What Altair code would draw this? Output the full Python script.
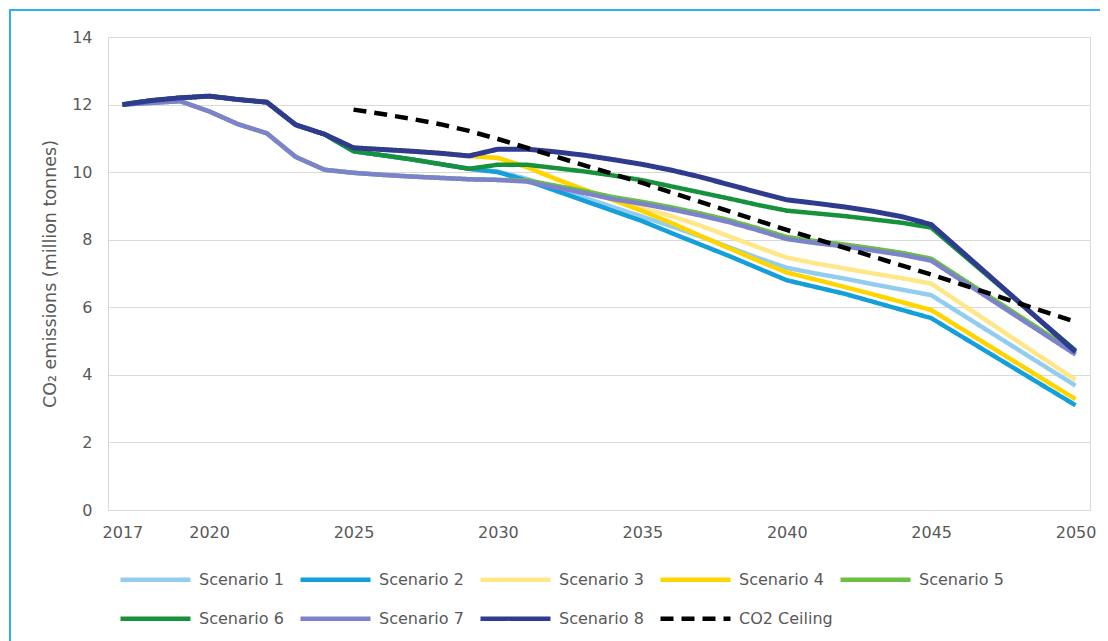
import altair as alt
import pandas as pd

years = list(range(2017, 2051))
names = ["Scenario 1", "Scenario 2", "Scenario 3", "Scenario 4", "Scenario 5",
         "Scenario 6", "Scenario 7", "Scenario 8", "CO2 Ceiling"]
colors = ["#92CDF0", "#139FDA", "#FFE788", "#FFD500", "#6CBF45",
          "#17913B", "#7C82CB", "#2F3B8E", "#000000"]
N = None

s1 = [12.0, 12.12, 12.2, 12.25, 12.15, 12.07, 11.4, 11.12, 10.62, 10.5, 10.38, 10.24, 10.1,
      10.02, 9.8, 9.52, 9.24, 8.96, 8.68, 8.4, 8.1, 7.78, 7.46, 7.17, 7.0, 6.85, 6.68, 6.52, 6.36,
      N, N, N, N, 3.68]
s2 = [12.0, 12.12, 12.2, 12.25, 12.15, 12.07, 11.4, 11.12, 10.62, 10.5, 10.38, 10.24, 10.1,
      10.0, 9.75, 9.45, 9.15, 8.85, 8.55, 8.2, 7.86, 7.52, 7.16, 6.8, 6.6, 6.4, 6.16, 5.92, 5.68,
      N, N, N, N, 3.1]
s3 = [12.0, 12.12, 12.2, 12.25, 12.15, 12.07, 11.4, 11.12, 10.72, 10.67, 10.62, 10.56, 10.48,
      10.42, 10.15, 9.8, 9.48, 9.17, 8.93, 8.7, 8.42, 8.1, 7.78, 7.47, 7.3, 7.15, 7.0, 6.86, 6.7,
      N, N, N, N, 3.85]
s4 = [12.0, 12.12, 12.2, 12.25, 12.15, 12.07, 11.4, 11.12, 10.72, 10.67, 10.62, 10.56, 10.48,
      10.42, 10.15, 9.8, 9.48, 9.17, 8.85, 8.5, 8.12, 7.75, 7.38, 7.03, 6.82, 6.6, 6.38, 6.15, 5.92,
      N, N, N, N, 3.28]
s5 = [12.0, 12.05, 12.1, 11.8, 11.42, 11.15, 10.45, 10.07, 9.98, 9.92, 9.87, 9.83, 9.79,
      9.77, 9.76, 9.6, 9.44, 9.26, 9.12, 8.96, 8.78, 8.58, 8.34, 8.08, 7.96, 7.86, 7.74, 7.61, 7.44,
      N, N, N, N, 4.66]
s6 = [12.0, 12.12, 12.2, 12.25, 12.15, 12.07, 11.4, 11.12, 10.62, 10.5, 10.38, 10.24, 10.1,
      10.22, 10.22, 10.12, 10.02, 9.9, 9.76, 9.58, 9.4, 9.22, 9.03, 8.86, 8.78, 8.7, 8.6, 8.5, 8.36,
      N, N, N, N, 4.72]
s7 = [12.0, 12.05, 12.1, 11.8, 11.42, 11.15, 10.45, 10.07, 9.98, 9.92, 9.87, 9.83, 9.79,
      9.77, 9.72, 9.55, 9.38, 9.2, 9.06, 8.9, 8.72, 8.52, 8.28, 8.02, 7.9, 7.8, 7.68, 7.55, 7.38,
      N, N, N, N, 4.6]
s8 = [12.0, 12.12, 12.2, 12.25, 12.15, 12.07, 11.4, 11.12, 10.72, 10.67, 10.62, 10.56, 10.48,
      10.68, 10.68, 10.6, 10.5, 10.37, 10.23, 10.06, 9.86, 9.63, 9.4, 9.18, 9.08, 8.97, 8.84, 8.68, 8.45,
      N, N, N, N, 4.68]
ceiling = [N, N, N, N, N, N, N, N, 11.85, 11.72, 11.58, 11.42, 11.22,
           10.98, N, N, N, N, 9.68, N, N, N, N, 8.29, N, N, N, N, 6.97,
           N, N, N, N, 5.57]

series = [s1, s2, s3, s4, s5, s6, s7, s8, ceiling]
dashes = [[1, 0]] * 8 + [[13, 8]]
x_ticks = [2017, 2020, 2025, 2030, 2035, 2040, 2045, 2050]
y_ticks = [0, 2, 4, 6, 8, 10, 12, 14]

rows = []
for name, vals in zip(names, series):
    assert len(vals) == len(years)
    for yr, v in zip(years, vals):
        if v is not None:
            rows.append({"year": yr, "value": v, "series": name})
df = pd.DataFrame(rows)

FONT = "DejaVu Sans"
GRAY = "#595959"

x_enc = alt.X("year:Q", scale=alt.Scale(domain=[2016.5, 2050.5], nice=False, zero=False),
              axis=alt.Axis(values=x_ticks, format="d", title=None, grid=False, ticks=False,
                            domain=False, labelPadding=14, labelFont=FONT, labelFontSize=16,
                            labelColor=GRAY))
y_enc = alt.Y("value:Q", scale=alt.Scale(domain=[0, 14], nice=False),
              axis=alt.Axis(values=y_ticks, title="CO₂ emissions (million tonnes)",
                            grid=True, gridColor="#D9D9D9", ticks=False, domain=False,
                            labelPadding=16, labelFont=FONT, labelFontSize=16, labelColor=GRAY,
                            titleFont=FONT, titleFontSize=17.5, titleFontWeight="normal",
                            titleColor=GRAY, titlePadding=12))


def legend_group(idx, legend_y, col_pad):
    dom = [names[i] for i in idx]
    cs = alt.Scale(domain=dom, range=[colors[i] for i in idx])
    ds = alt.Scale(domain=dom, range=[dashes[i] for i in idx])
    lg = alt.Legend(
        title=None, orient="none", legendX=10, legendY=legend_y, direction="horizontal",
        columns=5, symbolType="stroke", symbolSize=4900, symbolStrokeWidth=4.5,
        labelFont=FONT, labelFontSize=16, labelColor=GRAY, columnPadding=col_pad,
        labelOffset=6, padding=0, gridAlign="all",
    )
    ls = []
    for i in idx:
        name = names[i]
        ls.append(
            alt.Chart(df).transform_filter(alt.datum.series == name)
            .mark_line(strokeWidth=5 if name == "Scenario 8" else 4.5)
            .encode(
                x=x_enc, y=y_enc,
                color=alt.Color("series:N", scale=cs, legend=lg),
                strokeDash=alt.StrokeDash("series:N", scale=ds, legend=lg),
            )
        )
    return alt.layer(*ls)


group_a = legend_group([0, 1, 2, 3, 4], 505, 7)
group_b = legend_group([5, 6, 7, 8], 544, -2)

frame = alt.Chart(df).mark_rect(filled=False, stroke="#2BB3EA", strokeWidth=1.5).encode(
    x=alt.value(-98), x2=alt.value(1100), y=alt.value(-27), y2=alt.value(700)
)

chart = alt.layer(group_a, group_b, frame).resolve_scale(
    color="independent", strokeDash="independent"
).properties(
    width=982, height=473,
    autosize=alt.AutoSizeParams(type="none"),
    padding={"left": 100, "top": 29, "right": 10, "bottom": 131},
).configure_view(stroke="#D9D9D9", strokeWidth=1)

chart.save("out.html", embed_options={"renderer": "svg", "actions": False})
